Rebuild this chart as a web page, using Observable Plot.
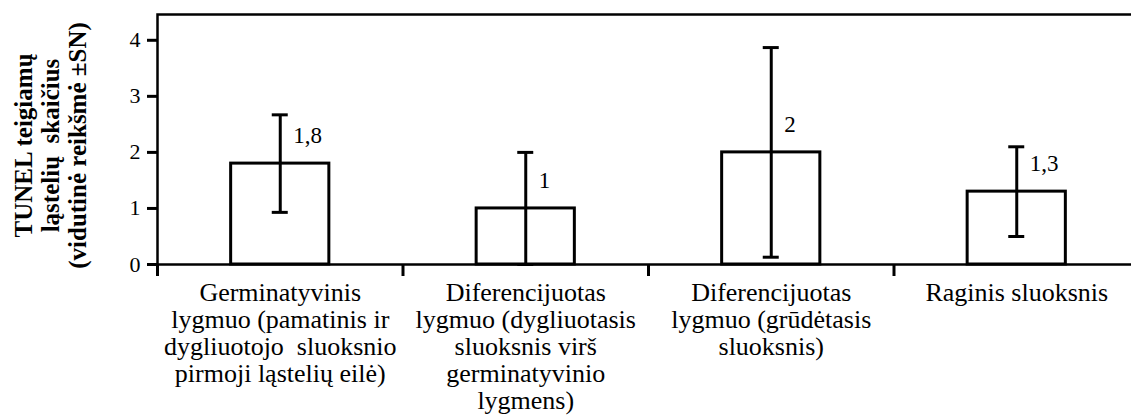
<!DOCTYPE html>
<html>
<head>
<meta charset="utf-8">
<script src="https://cdn.jsdelivr.net/npm/d3@7"></script>
<script src="https://cdn.jsdelivr.net/npm/@observablehq/plot@0.6"></script>
<style>
  html, body { margin: 0; padding: 0; background: #fff; overflow: hidden; }
  svg text { font-family: "Liberation Serif", "Times New Roman", Times, serif; }
</style>
</head>
<body>
<div id="chart"></div>
<script>
const categories = [
  "Germinatyvinis\nlygmuo (pamatinis ir\ndygliuotojo  sluoksnio\npirmoji ląstelių eilė)",
  "Diferencijuotas\nlygmuo (dygliuotasis\nsluoksnis virš\ngerminatyvinio\nlygmens)",
  "Diferencijuotas\nlygmuo (grūdėtasis\nsluoksnis)",
  "Raginis sluoksnis"
];
const means = [1.8, 1.0, 2.0, 1.3];
const sds = [0.87, 1.0, 1.87, 0.8];
const valueLabels = ["1,8", "1", "2", "1,3"];
const yTicks = [0, 1, 2, 3, 4];
const xBoundaries = [0, 1, 2, 3, 4];
const yTitle = "TUNEL teigiamų\nląstelių  skaičius\n(vidutinė reikšmė ±SN)";

const data = categories.map((c, i) => ({
  i, category: c, mean: means[i], sd: sds[i], label: valueLabels[i]
}));
const caps = data.flatMap(d => [
  {i: d.i, y: d.mean - d.sd},
  {i: d.i, y: d.mean + d.sd}
]);

const serif = "Liberation Serif";

const chart = Plot.plot({
  width: 1131,
  height: 417,
  marginLeft: 157,
  marginRight: -8,
  marginTop: 14,
  marginBottom: 153,
  style: {fontSize: "22px", color: "black", background: "white", overflow: "hidden"},
  x: {type: "linear", domain: [0, 4], axis: null},
  y: {domain: [0, 4.46], axis: null},
  marks: [
    Plot.rectY(data, {x1: d => d.i + 0.3, x2: d => d.i + 0.7, y: "mean", fill: "white", stroke: "black", strokeWidth: 3}),
    Plot.ruleX(data, {x: d => d.i + 0.5, y1: d => d.mean - d.sd, y2: d => d.mean + d.sd, stroke: "black", strokeWidth: 3}),
    Plot.ruleY(caps, {y: "y", x1: d => d.i + 0.5, x2: d => d.i + 0.5, insetLeft: -8, insetRight: -8, stroke: "black", strokeWidth: 3}),
    Plot.text(data, {x: d => d.i + 0.5, y: "mean", text: "label", dx: 13, dy: -28, textAnchor: "start", fontSize: 23, fontFamily: serif, fill: "black"}),
    Plot.frame({stroke: "black", strokeWidth: 2.5}),
    Plot.axisY({ticks: yTicks, tickSize: 10, tickPadding: 7, fontSize: 22, fontFamily: serif, strokeWidth: 3, tickFormat: d => String(d)}),
    Plot.axisX({ticks: xBoundaries, tickSize: 12, strokeWidth: 3, tickFormat: () => ""}),
    Plot.text(data, {x: d => d.i + 0.5, text: "category", frameAnchor: "bottom", lineAnchor: "top", dy: 17, fontSize: 26, fontFamily: serif, lineHeight: 1.04, fill: "black"}),
    Plot.text([yTitle], {text: d => d, frameAnchor: "left", textAnchor: "middle", rotate: -90, dx: -107, dy: 6, fontSize: 25, fontFamily: serif, fontWeight: "bold", lineHeight: 1.08, fill: "black"})
  ]
});
document.getElementById("chart").appendChild(chart);
</script>
</body>
</html>
